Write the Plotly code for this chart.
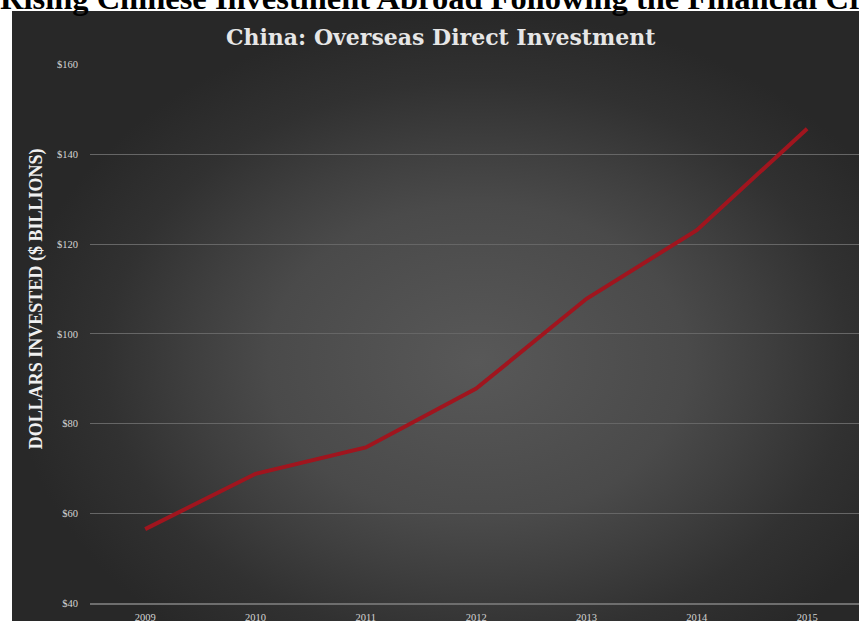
import plotly.graph_objects as go

# China outbound direct investment, US$ billions
years = ["2009", "2010", "2011", "2012", "2013", "2014", "2015"]
investment = [56.5, 68.8, 74.7, 87.8, 107.8, 123.1, 145.7]
y_ticks = [40, 60, 80, 100, 120, 140, 160]
y_tick_text = ["$" + str(v) for v in y_ticks]

W, H = 859, 627
ML, MT = 12, 11                      # white border around the dark panel
PW, PH = W - ML, H - MT
PLOT_L, PLOT_T, PLOT_B = 90, 65, 609  # data area in page pixels

fig = go.Figure()

# dark panel with a soft radial glow (own hidden axes, drawn first)
fig.add_trace(go.Scatter(
    x=[0, 1.1, 1.1, 0, 0], y=[-0.15, -0.15, 1, 1, -0.15],
    xaxis="x", yaxis="y", mode="lines", fill="toself",
    line=dict(width=0, color="rgba(0,0,0,0)"),
    fillgradient=dict(type="radial", colorscale=[
        [0.0, "#585858"], [0.45, "#4a4a4a"], [0.61, "#3f3f3f"],
        [0.8, "#313131"], [1.0, "#282828"]]),
    hoverinfo="skip", showlegend=False))

# the investment line
fig.add_trace(go.Scatter(
    x=list(range(len(years))), y=investment, xaxis="x2", yaxis="y2",
    mode="lines", line=dict(color="#a0151e", width=4),
    showlegend=False, hoverinfo="skip"))

tick_font = dict(family="Liberation Serif", size=10.5, color="#d4d4d4")

fig.update_layout(
    width=W, height=H,
    margin=dict(l=ML, r=0, t=MT, b=0, pad=0),
    paper_bgcolor="white", plot_bgcolor="rgba(0,0,0,0)",
    xaxis=dict(domain=[0, 1], range=[0, 1], visible=False, fixedrange=True),
    yaxis=dict(domain=[0, 1], range=[0, 1], visible=False, fixedrange=True),
    xaxis2=dict(
        domain=[(PLOT_L - ML) / PW, 1], anchor="y2",
        range=[-0.5, 6.47], tickvals=list(range(len(years))), ticktext=years,
        showgrid=False, zeroline=False, showline=True,
        linecolor="#6e6e6e", linewidth=2, ticks="",
        tickfont=tick_font, ticklabelstandoff=3),
    yaxis2=dict(
        domain=[(H - PLOT_B) / PH, (H - PLOT_T) / PH], anchor="x2",
        range=[40, 160], tickvals=y_ticks, ticktext=y_tick_text,
        showgrid=True, gridcolor="#666666", gridwidth=1,
        zeroline=False, showline=False, ticks="",
        tickfont=tick_font, ticklabelstandoff=11),
    annotations=[
        dict(text="Rising Chinese Investment Abroad Following the Financial Crisis",
             xref="paper", yref="paper", x=-ML / PW, y=(H - 16) / PH,
             xanchor="left", yanchor="bottom", showarrow=False,
             borderpad=0, borderwidth=0,
             font=dict(family="Liberation Serif", size=32.5, color="black",
                       weight="bold")),
        dict(text="China: Overseas Direct Investment",
             xref="paper", yref="paper", x=(441 - ML) / PW, y=(H - 37) / PH,
             xanchor="center", yanchor="middle", showarrow=False,
             font=dict(family="DejaVu Serif", size=22, color="#e6e6e6",
                       weight="bold")),
        dict(text="DOLLARS INVESTED ($ BILLIONS)",
             xref="paper", yref="paper", x=(36 - ML) / PW, y=(H - 302) / PH,
             xanchor="center", yanchor="middle", textangle=-90,
             showarrow=False,
             font=dict(family="Liberation Serif", size=18, color="#f0f0f0",
                       weight="bold")),
    ],
)

fig.write_html("out.html")
